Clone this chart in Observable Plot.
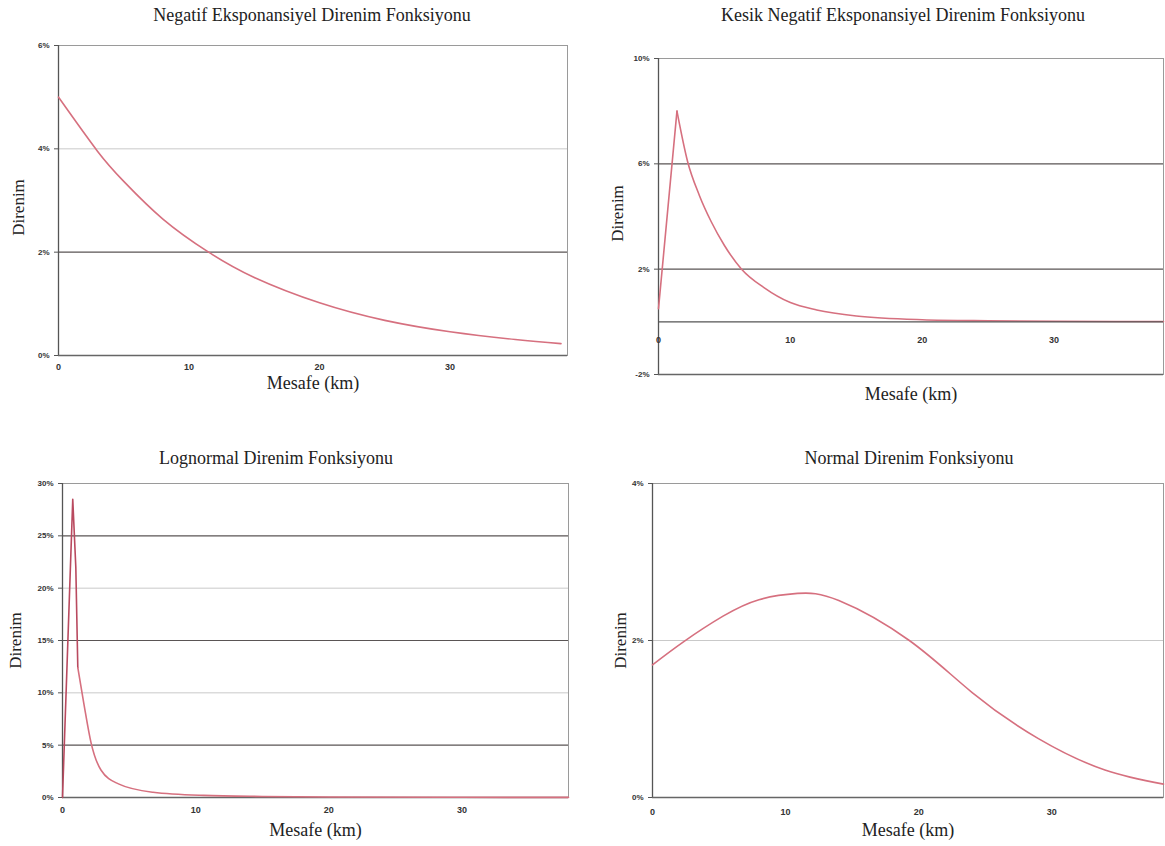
<!DOCTYPE html>
<html><head><meta charset="utf-8">
<script src="https://cdn.jsdelivr.net/npm/d3@7"></script>
<script src="https://cdn.jsdelivr.net/npm/@observablehq/plot@0.6"></script>
<style>
body{margin:0;background:#fff;width:1165px;height:846px;position:relative;overflow:hidden;font-family:"Liberation Serif",serif;}
.title{position:absolute;font-size:18px;line-height:20px;color:#222;transform:translateX(-50%);white-space:nowrap;}
.panel{position:absolute;}
</style></head><body>
<script>
// ---------- data (values in percent, distance in km) ----------
const titles = ["Negatif Eksponansiyel Direnim Fonksiyonu","Kesik Negatif Eksponansiyel Direnim Fonksiyonu","Lognormal Direnim Fonksiyonu","Normal Direnim Fonksiyonu"];
const xLabel = "Mesafe (km)";
const yLabel = "Direnim";
const xTicks = [0,10,20,30];

const negExpKm  = [0,3,5,8,11.5,15,20,25,30,35,38.5];
const negExpVal = [5.0,3.95,3.37,2.64,2.0,1.51,1.02,0.68,0.46,0.31,0.23];
const negExpYTicks = [0,2,4,6];

const truncKm  = [0,1.4,2.2,3.1,4,5,6.3,8,10,12,15,20,25,30,38.3];
const truncVal = [0.5,8.0,6.1,4.8,3.8,2.9,2.0,1.3,0.73,0.45,0.22,0.08,0.04,0.02,0.01];
const truncYTicks = [-2,2,6,10];
const truncPeakIndex = 1;

const logKm  = [0,0.77,1.0,1.15,1.6,2.15,2.9,4.2,6.8,10.6,15,20,30,38];
const logVal = [0,28.5,22,12.4,9,5.2,2.6,1.3,0.5,0.2,0.1,0.05,0.02,0.01];
const logYTicks = [0,5,10,15,20,25,30];
const logPeakIndex = 3;

const normKm  = [0,2.3,5.3,8,10.9,14,19.3,24,29,34,38.4];
const normVal = [1.69,1.98,2.31,2.52,2.60,2.51,2.0,1.34,0.75,0.35,0.17];
const normYTicks = [0,2,4];

const lineColor = "#d6707f";
const spikeColor = "#b94a5f";
const tickFont = "'Liberation Sans', Arial, sans-serif";
const serif = "'Liberation Serif', 'Times New Roman', serif";

function panel(o) {
  const rows = o.km.map((k, i) => ({km: k, v: o.val[i]}));
  const marks = [
    Plot.ruleY(o.lightGrid, {stroke: "#c9c9c9", strokeWidth: 1}),
    Plot.ruleY(o.darkGrid, {stroke: "#5a5555", strokeWidth: 1.2}),
    Plot.frame({stroke: "#9a9a9a"}),
    Plot.ruleX([0], {stroke: "#555", strokeWidth: 1.3}),
    Plot.ruleY([o.yDomain[0]], {stroke: "#666", strokeWidth: 1.3})
  ];
  if (o.spikeEnd != null) {
    marks.push(Plot.line(rows.slice(0, o.spikeEnd + 1), {x: "km", y: "v", stroke: o.spikeColor || lineColor, strokeWidth: 1.6}));
    marks.push(Plot.line(rows.slice(o.spikeEnd), {x: "km", y: "v", stroke: lineColor, strokeWidth: 1.6, curve: "monotone-x"}));
  } else {
    marks.push(Plot.line(rows, {x: "km", y: "v", stroke: lineColor, strokeWidth: 1.6, curve: o.curve || "natural"}));
  }
  marks.push(
    Plot.axisY(o.yTicks, {tickFormat: d => d + "%", tickSize: 4, tickPadding: 5, fontSize: 8, fontWeight: "bold", fontFamily: tickFont, fill: "#333", stroke: "#555", label: null}),
    Plot.text([yLabel], {text: d => d, frameAnchor: "left", textAnchor: "middle", lineAnchor: "middle", dx: o.yLabelDx, dy: o.yLabelDy || 0, rotate: -90, fontSize: 17, fontFamily: serif, fill: "#222"}),
    Plot.text([xLabel], {text: d => d, frameAnchor: "bottom", textAnchor: "middle", lineAnchor: "middle", dy: o.xLabelDy, fontSize: 18, fontFamily: serif, fill: "#222"})
  );
  if (o.zeroAxis) {
    marks.push(Plot.ruleY([0], {stroke: "#555", strokeWidth: 1.3}));
    marks.push(Plot.text(xTicks, {x: d => d, y: () => 0, dy: o.xTickDy, text: d => String(d), fontSize: 9, fontWeight: "bold", fontFamily: tickFont, fill: "#333"}));
  } else {
    marks.push(Plot.axisX(xTicks, {tickSize: 0, tickPadding: o.xTickDy, fontSize: 9, fontWeight: "bold", fontFamily: tickFont, fill: "#333", label: null}));
  }
  const svg = Plot.plot({
    width: o.width, height: o.height,
    marginLeft: o.mL, marginRight: o.mR, marginTop: o.mT, marginBottom: o.mB,
    x: {domain: [0, o.xMax], axis: null},
    y: {domain: o.yDomain, axis: null},
    style: {background: "transparent", overflow: "visible"},
    marks
  });
  svg.classList.add("panel");
  svg.style.left = o.left + "px";
  svg.style.top = o.top + "px";
  document.body.appendChild(svg);
  const t = document.createElement("div");
  t.className = "title";
  t.textContent = o.title;
  t.style.left = o.titleX + "px";
  t.style.top = o.titleY + "px";
  document.body.appendChild(t);
}

panel({title: titles[0], titleX: 312, titleY: 5,
  left: 0, top: 25, width: 582, height: 375, mL: 58, mR: 15, mT: 20, mB: 45,
  xMax: 39, yDomain: [0, 6], yTicks: negExpYTicks, darkGrid: [2], lightGrid: [4, 6],
  km: negExpKm, val: negExpVal, xTickDy: 8, xLabelDy: 28, yLabelDx: -40, yLabelDy: 7});

panel({title: titles[1], titleX: 903, titleY: 5,
  left: 590, top: 38, width: 575, height: 375, mL: 68, mR: 2, mT: 20, mB: 39,
  xMax: 38.3, yDomain: [-2, 10], yTicks: truncYTicks, darkGrid: [2, 6], lightGrid: [10],
  km: truncKm, val: truncVal, spikeEnd: truncPeakIndex,
  xTickDy: 18, xLabelDy: 20, yLabelDx: -41, yLabelDy: -3, zeroAxis: true});

panel({title: titles[2], titleX: 276, titleY: 448,
  left: 0, top: 463, width: 582, height: 380, mL: 62, mR: 14, mT: 20, mB: 46,
  xMax: 38, yDomain: [0, 30], yTicks: logYTicks, darkGrid: [5, 15, 25], lightGrid: [10, 20, 30],
  km: logKm, val: logVal, spikeEnd: logPeakIndex, spikeColor: spikeColor,
  xTickDy: 9, xLabelDy: 33, yLabelDx: -47});

panel({title: titles[3], titleX: 909, titleY: 448,
  left: 590, top: 463, width: 575, height: 380, mL: 62, mR: 2, mT: 20, mB: 46,
  xMax: 38.4, yDomain: [0, 4], yTicks: normYTicks, darkGrid: [], lightGrid: [2, 4],
  km: normKm, val: normVal, xTickDy: 11, xLabelDy: 33, yLabelDx: -32});
</script>
</body></html>
